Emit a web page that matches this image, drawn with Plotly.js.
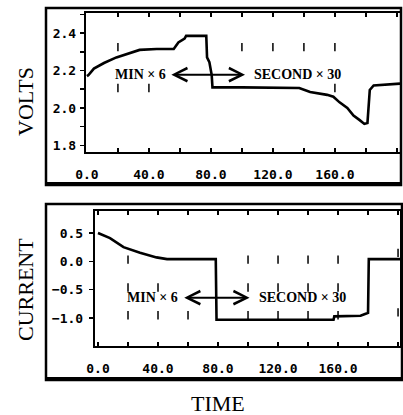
<!DOCTYPE html>
<html>
<head>
<meta charset="utf-8">
<script src="https://cdn.plot.ly/plotly-3.0.1.min.js"></script>
<style>html,body{margin:0;padding:0;background:#fff;}#chart{width:403px;height:415px;}</style>
</head>
<body>
<div id="chart"></div>
<script>
// ---- data ----
const timeVolts = [0, 1, 4.5, 11, 19, 26, 34, 45, 56, 59, 63, 64, 77, 77.5, 79, 80.5, 81, 100, 120, 137, 144, 155, 159, 163, 168, 172, 176, 179, 181, 182.5, 185, 202];
const volts = [2.17, 2.176, 2.21, 2.24, 2.27, 2.29, 2.31, 2.315, 2.315, 2.35, 2.37, 2.385, 2.385, 2.27, 2.245, 2.176, 2.11, 2.11, 2.11, 2.107, 2.085, 2.07, 2.06, 2.03, 2.0, 1.96, 1.935, 1.915, 1.92, 2.096, 2.12, 2.13];

const timeCurrent = [0, 8, 17, 28, 39, 46, 60, 78.5, 79, 100, 130, 157, 157.5, 165, 170, 175, 178, 180, 180.5, 202];
const current = [0.5, 0.41, 0.25, 0.15, 0.07, 0.04, 0.04, 0.04, -1.03, -1.03, -1.03, -1.03, -0.97, -0.97, -0.96, -0.96, -0.93, -0.91, 0.04, 0.04];

// short vertical grid marks visible inside each panel
const voltMarkT = [20, 100, 120, 140, 160, 20, 40, 160];
const voltMarkV = [2.325, 2.325, 2.325, 2.325, 2.325, 2.107, 2.107, 2.107];
const curMarkT = [20, 100, 120, 140, 160, 200, 20, 40, 100, 120, 140, 160, 20, 40, 60, 100, 120, 140, 160, 200];
const curMarkI = [0.03, 0.03, 0.03, 0.03, 0.03, 0.15, -0.46, -0.46, -0.46, -0.46, -0.46, -0.46, -0.95, -0.95, -0.95, -0.95, -0.95, -0.95, -0.95, -0.9];

const timeTicks = [0, 40, 80, 120, 160];
const voltTicks = [1.8, 2.0, 2.2, 2.4];
const currentTicks = [-1.0, -0.5, 0.0, 0.5];

const minLabel = 'MIN × 6';
const secLabel = 'SECOND × 30';
const arrowV = {from: 53.5, to: 102, level: 2.178, minEnd: 52, secStart: 106.5};
const arrowI = {from: 56.5, to: 101, level: -0.64, minEnd: 54.5, secStart: 106};

// ---- layout helpers (pixel -> paper) ----
const W = 403, H = 415;
const px = x => x / W;
const py = y => 1 - y / H;

const tickFont = {family: 'DejaVu Sans Mono', size: 13, color: '#000', weight: 'bold'};
const annFont = {family: 'Liberation Serif', size: 14, color: '#000', weight: 'bold'};
const titleFont = {family: 'Liberation Serif', size: 22, color: '#000'};
const markStyle = {symbol: 'line-ns-open', size: 6, color: '#000', line: {color: '#000', width: 1.5}};

const traces = [
  {x: timeVolts, y: volts, xaxis: 'x', yaxis: 'y', mode: 'lines', line: {color: '#000', width: 2.6}, hoverinfo: 'skip'},
  {x: voltMarkT, y: voltMarkV, xaxis: 'x', yaxis: 'y', mode: 'markers', marker: markStyle, hoverinfo: 'skip'},
  {x: timeCurrent, y: current, xaxis: 'x2', yaxis: 'y2', mode: 'lines', line: {color: '#000', width: 2.6}, hoverinfo: 'skip'},
  {x: curMarkT, y: curMarkI, xaxis: 'x2', yaxis: 'y2', mode: 'markers', marker: markStyle, hoverinfo: 'skip'}
];

const xCommon = {
  tickmode: 'array', tickvals: timeTicks, tickformat: '.1f',
  ticks: 'inside', ticklen: 4, tickwidth: 1.5, tickcolor: '#000',
  minor: {dtick: 20, tick0: 0, ticks: 'inside', ticklen: 4, tickwidth: 1.5, tickcolor: '#000'},
  showline: true, linecolor: '#000', linewidth: 2.2, mirror: 'ticks',
  showgrid: false, zeroline: false, tickfont: tickFont, ticklabelstandoff: 9, fixedrange: true
};
const yCommon = {
  tickmode: 'array', tickformat: '.1f',
  ticks: 'outside', ticklen: 4, tickwidth: 1.5, tickcolor: '#000',
  showline: true, linecolor: '#000', linewidth: 2.2, mirror: true,
  showgrid: false, zeroline: false, tickfont: tickFont, fixedrange: true
};

const layout = {
  width: W, height: H,
  margin: {l: 0, r: 0, t: 0, b: 0},
  paper_bgcolor: '#fff', plot_bgcolor: '#fff',
  showlegend: false,
  xaxis: Object.assign({}, xCommon, {domain: [px(86), px(400)], range: [-0.6, 202], anchor: 'y'}),
  yaxis: Object.assign({}, yCommon, {domain: [py(152), py(13)], range: [1.765, 2.507], tickvals: voltTicks,
    minor: {dtick: 0.1, tick0: 1.8, ticks: 'outside', ticklen: 4, tickwidth: 1.5, tickcolor: '#000'}, anchor: 'x', ticklabelstandoff: 1}),
  xaxis2: Object.assign({}, xCommon, {domain: [px(95), px(400)], range: [-2, 201.3], anchor: 'y2'}),
  yaxis2: Object.assign({}, yCommon, {domain: [py(346), py(211)], range: [-1.493, 0.888], tickvals: currentTicks, anchor: 'x2', ticklabelstandoff: 3}),
  shapes: [
    {type: 'rect', xref: 'paper', yref: 'paper', x0: px(46), x1: px(401), y0: py(185), y1: py(8), line: {color: '#000', width: 2.5}},
    {type: 'line', xref: 'paper', yref: 'paper', x0: px(46), x1: px(401), y0: py(184), y1: py(184), line: {color: '#000', width: 4}},
    {type: 'rect', xref: 'paper', yref: 'paper', x0: px(46), x1: px(402), y0: py(380), y1: py(204), line: {color: '#000', width: 2.5}},
    {type: 'line', xref: 'paper', yref: 'paper', x0: px(46), x1: px(402), y0: py(379), y1: py(379), line: {color: '#000', width: 4}}
  ],
  annotations: [
    // double arrows
    {xref: 'x', yref: 'y', axref: 'x', ayref: 'y', x: arrowV.to, y: arrowV.level, ax: arrowV.from, ay: arrowV.level, text: '', showarrow: true,
      arrowhead: 5, startarrowhead: 5, arrowside: 'end+start', arrowsize: 1.3, startarrowsize: 1.3, arrowwidth: 2, arrowcolor: '#000'},
    {xref: 'x2', yref: 'y2', axref: 'x2', ayref: 'y2', x: arrowI.to, y: arrowI.level, ax: arrowI.from, ay: arrowI.level, text: '', showarrow: true,
      arrowhead: 5, startarrowhead: 5, arrowside: 'end+start', arrowsize: 1.3, startarrowsize: 1.3, arrowwidth: 2, arrowcolor: '#000'},
    {xref: 'x', yref: 'y', x: arrowV.minEnd, y: arrowV.level, text: minLabel, showarrow: false, xanchor: 'right', yanchor: 'middle', font: annFont},
    {xref: 'x', yref: 'y', x: arrowV.secStart, y: arrowV.level, text: secLabel, showarrow: false, xanchor: 'left', yanchor: 'middle', font: annFont},
    {xref: 'x2', yref: 'y2', x: arrowI.minEnd, y: arrowI.level, text: minLabel, showarrow: false, xanchor: 'right', yanchor: 'middle', font: annFont},
    {xref: 'x2', yref: 'y2', x: arrowI.secStart, y: arrowI.level, text: secLabel, showarrow: false, xanchor: 'left', yanchor: 'middle', font: annFont},
    // axis titles
    {xref: 'paper', yref: 'paper', x: px(25), y: py(102), text: 'VOLTS', textangle: -90, showarrow: false, xanchor: 'center', yanchor: 'middle', font: titleFont},
    {xref: 'paper', yref: 'paper', x: px(25), y: py(290), text: 'CURRENT', textangle: -90, showarrow: false, xanchor: 'center', yanchor: 'middle', font: titleFont},
    {xref: 'paper', yref: 'paper', x: px(218), y: py(403), text: 'TIME', showarrow: false, xanchor: 'center', yanchor: 'middle', font: titleFont}
  ]
};

Plotly.newPlot('chart', traces, layout, {staticPlot: true, displayModeBar: false});
</script>
</body>
</html>
